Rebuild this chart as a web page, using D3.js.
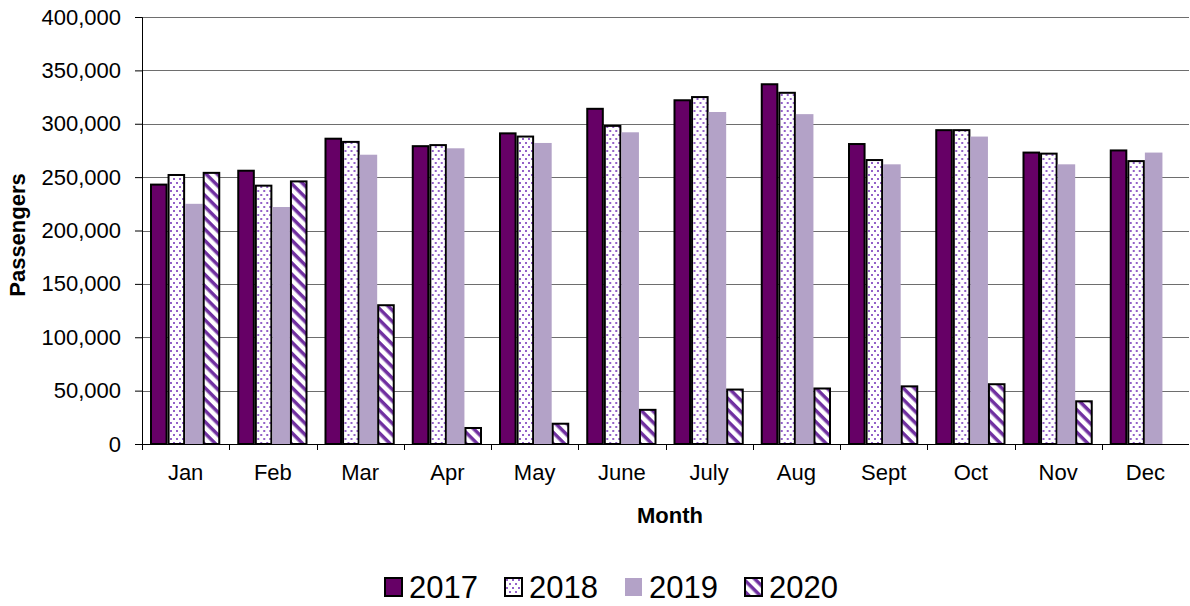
<!DOCTYPE html>
<html>
<head>
<meta charset="utf-8">
<script src="https://cdn.jsdelivr.net/npm/d3@7"></script>
<style>
  body { margin: 0; background: #fff; }
  svg text { font-family: "Liberation Sans", Arial, sans-serif; fill: #000; }
</style>
</head>
<body>
<div class="chart"></div>
<script>
// Chart data
var months = ["Jan", "Feb", "Mar", "Apr", "May", "June", "July", "Aug", "Sept", "Oct", "Nov", "Dec"];
var years = ["2017", "2018", "2019", "2020"];
var pax2017 = [243000, 256000, 286000, 279000, 291000, 314000, 322000, 337000, 281000, 294000, 273000, 275000];
var pax2018 = [252000, 242000, 283000, 280000, 288000, 298000, 325000, 329000, 266000, 294000, 272000, 265000];
var pax2019 = [225000, 222000, 271000, 277000, 282000, 292000, 311000, 309000, 262000, 288000, 262000, 273000];
var pax2020 = [254000, 246000, 130000, 15000, 19000, 32000, 51000, 52000, 54000, 56000, 40000, null];
var yTicks = [0, 50000, 100000, 150000, 200000, 250000, 300000, 350000, 400000];

var series = [pax2017, pax2018, pax2019, pax2020];

// SVG dimensions
var svgWidth = 1190;
var svgHeight = 606;

var margin = { top: 17, right: 1, bottom: 162, left: 142 };
var width = svgWidth - margin.left - margin.right;
var height = svgHeight - margin.top - margin.bottom;

var svg = d3.select(".chart")
  .append("svg")
  .attr("width", svgWidth)
  .attr("height", svgHeight);

// Patterns for the bar fills
var defs = svg.append("defs");

var dots = defs.append("pattern")
  .attr("id", "dots")
  .attr("patternUnits", "userSpaceOnUse")
  .attr("width", 6)
  .attr("height", 8);
dots.append("rect").attr("width", 6).attr("height", 8).attr("fill", "#fff");
dots.append("rect").attr("x", 1).attr("y", 1).attr("width", 2).attr("height", 2).attr("fill", "#9461c8");
dots.append("rect").attr("x", 4).attr("y", 5).attr("width", 2).attr("height", 2).attr("fill", "#9461c8");

var stripes = defs.append("pattern")
  .attr("id", "stripes")
  .attr("patternUnits", "userSpaceOnUse")
  .attr("width", 8)
  .attr("height", 8)
  .attr("patternTransform", "rotate(45)");
stripes.append("rect").attr("width", 8).attr("height", 8).attr("fill", "#fff");
stripes.append("rect").attr("width", 8).attr("height", 3.5).attr("fill", "#7030a0");

var fills = ["#660066", "url(#dots)", "#b3a2c7", "url(#stripes)"];
var strokes = ["#000", "#000", "none", "#000"];

var chartGroup = svg.append("g")
  .attr("transform", `translate(${margin.left}, ${margin.top})`);

// Scales
var xScale = d3.scaleBand()
  .domain(months)
  .range([0, width]);

var xInner = d3.scaleBand()
  .domain(years)
  .range([8, xScale.bandwidth() - 9]);

var yScale = d3.scaleLinear()
  .domain([0, 400000])
  .range([height, 0]);

// Gridlines
chartGroup.append("g")
  .selectAll("line")
  .data(yTicks.slice(1))
  .enter()
  .append("line")
  .attr("x1", 0)
  .attr("x2", width)
  .attr("y1", d => Math.round(yScale(d)) + 0.5)
  .attr("y2", d => Math.round(yScale(d)) + 0.5)
  .attr("stroke", "#6e6e6e")
  .attr("stroke-width", 1);

// Bars
var groups = chartGroup.selectAll(".month")
  .data(months)
  .enter()
  .append("g")
  .attr("class", "month")
  .attr("transform", d => `translate(${xScale(d)}, 0)`);

groups.selectAll("rect")
  .data((m, i) => years.map((y, j) => ({ year: y, j: j, value: series[j][i] })).filter(d => d.value != null))
  .enter()
  .append("rect")
  .attr("x", d => xInner(d.year) + (d.j === 2 ? 0 : 1))
  .attr("y", d => yScale(d.value))
  .attr("width", d => xInner.bandwidth() - (d.j === 2 ? 0 : 2))
  .attr("height", d => height - yScale(d.value))
  .attr("fill", d => fills[d.j])
  .attr("stroke", d => strokes[d.j])
  .attr("stroke-width", 2);

// Axes
var leftAxis = d3.axisLeft(yScale)
  .tickValues(yTicks)
  .tickSize(7)
  .tickPadding(14)
  .tickFormat(d3.format(","));

var yAxisG = chartGroup.append("g").call(leftAxis);
yAxisG.select(".domain").attr("stroke", "#000");
yAxisG.selectAll(".tick line").attr("stroke", "#000");
yAxisG.selectAll("text").attr("font-size", "22px").attr("font-family", "Liberation Sans, Arial, sans-serif");

var bottomAxis = chartGroup.append("g")
  .attr("transform", `translate(0, ${height})`);

bottomAxis.append("line")
  .attr("x1", 0)
  .attr("x2", width)
  .attr("y1", 0.5)
  .attr("y2", 0.5)
  .attr("stroke", "#000");

bottomAxis.selectAll(".xtick")
  .data(months)
  .enter()
  .append("line")
  .attr("class", "xtick")
  .attr("x1", d => Math.round(xScale(d)) + 0.5)
  .attr("x2", d => Math.round(xScale(d)) + 0.5)
  .attr("y1", 0)
  .attr("y2", 6)
  .attr("stroke", "#000");

bottomAxis.selectAll(".xlabel")
  .data(months)
  .enter()
  .append("text")
  .attr("class", "xlabel")
  .attr("x", d => xScale(d) + xScale.bandwidth() / 2)
  .attr("y", 36)
  .attr("text-anchor", "middle")
  .attr("font-size", "22px")
  .text(d => d);

// Axis titles
svg.append("text")
  .attr("transform", `translate(25, 235) rotate(-90)`)
  .attr("text-anchor", "middle")
  .attr("font-size", "22px")
  .attr("font-weight", "bold")
  .text("Passengers");

svg.append("text")
  .attr("x", 670)
  .attr("y", 523)
  .attr("text-anchor", "middle")
  .attr("font-size", "22px")
  .attr("font-weight", "bold")
  .text("Month");

// Legend
var legendX = [385, 505, 625, 745];
var legend = svg.append("g").attr("class", "legend");

var items = legend.selectAll("g")
  .data(years)
  .enter()
  .append("g")
  .attr("transform", (d, i) => `translate(${legendX[i]}, 578)`);

items.append("rect")
  .attr("width", 17)
  .attr("height", 18)
  .attr("fill", (d, i) => fills[i])
  .attr("stroke", (d, i) => strokes[i])
  .attr("stroke-width", 2);

items.append("text")
  .attr("x", 24)
  .attr("y", 20)
  .attr("font-size", "31px")
  .text(d => d);
</script>
</body>
</html>
